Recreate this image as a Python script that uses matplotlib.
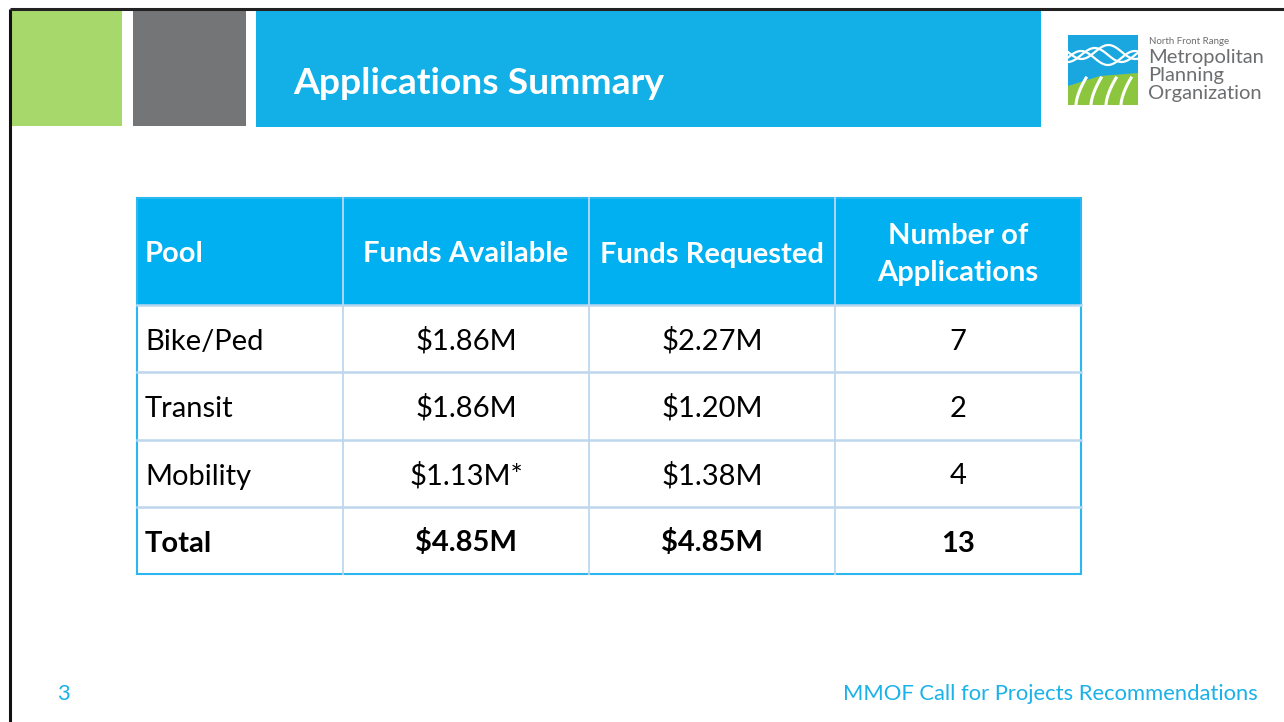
import matplotlib.pyplot as plt
import matplotlib.patches as mpatches
import numpy as np

# table contents
header = ['Pool', 'Funds Available', 'Funds Requested', 'Number of\nApplications']
pools = ['Bike/Ped', 'Transit', 'Mobility', 'Total']
funds_available = ['$1.86M', '$1.86M', '$1.13M*', '$4.85M']
funds_requested = ['$2.27M', '$1.20M', '$1.38M', '$4.85M']
num_apps = ['7', '2', '4', '13']

title = 'Applications Summary'
footer_left = '3'
footer_right = 'MMOF Call for Projects Recommendations'

BLUE = '#12b0e6'
HDR = '#00b0f0'
GRID = '#bdd7ee'

plt.rcParams['font.family'] = ['Lato', 'DejaVu Sans']

fig = plt.figure(figsize=(12.84, 7.22), dpi=100)
ax = fig.add_axes([0, 0, 1, 1])
ax.set_xlim(0, 1284)
ax.set_ylim(722, 0)
ax.axis('off')

# slide frame lines
ax.plot([10, 10], [9, 722], color='#111111', lw=2.2, solid_capstyle='butt')
ax.plot([10, 1284], [9, 9], color='#222222', lw=2.2, solid_capstyle='butt')

# header blocks
ax.add_patch(mpatches.Rectangle((11, 10), 111, 116, color='#a7d86b', lw=0))
ax.add_patch(mpatches.Rectangle((133, 8), 113, 118, color='#747577', lw=0))
ax.add_patch(mpatches.Rectangle((256, 10), 785, 117, color=BLUE, lw=0))
ax.text(293, 83, title, color='white', fontsize=26.8, fontweight='bold',
        va='center', ha='left')

# logo
ax.add_patch(mpatches.Rectangle((1068, 35), 70, 70, color='#1aa7e0', lw=0))
t = np.linspace(0, 1, 60)
for k, ph in enumerate([0, 1.6, 3.2]):
    xs = 1068 + 70 * t
    ys = 52 + 7 * np.sin(2 * np.pi * t * 1.3 + ph) + k * 3
    ax.plot(xs, ys, color='white', lw=1.6)
ax.add_patch(mpatches.Polygon([[1068, 105], [1068, 86], [1100, 76], [1138, 73],
                               [1138, 105]], closed=True, color='#8cc63f', lw=0))
th = np.linspace(0, 1, 30)
for x0 in [1076, 1091, 1106, 1121]:
    ax.plot(x0 + 10 * th ** 1.6, 105 - 27 * th, color='white', lw=2.2)
ax.text(1149, 41, 'North Front Range', color='#6d6e70', fontsize=7,
        va='center', ha='left')
ax.text(1148, 58, 'Metropolitan', color='#6d6e70', fontsize=14.5, va='center', ha='left')
ax.text(1148, 76, 'Planning', color='#6d6e70', fontsize=14.5, va='center', ha='left')
ax.text(1148, 94, 'Organization', color='#6d6e70', fontsize=14.5, va='center', ha='left')

# table geometry
col_edges = [137, 343, 589, 835, 1081]
row_edges = [198, 305, 372, 440, 507, 574]

ax.add_patch(mpatches.Rectangle((col_edges[0], row_edges[0]),
                                col_edges[-1] - col_edges[0], row_edges[1] - row_edges[0],
                                color=HDR, lw=0))

# grid lines
for x in col_edges[1:-1]:
    ax.plot([x, x], [row_edges[0], row_edges[-1]], color=GRID, lw=1.3)
for y in row_edges[1:-1]:
    ax.plot([col_edges[0], col_edges[-1]], [y, y], color=GRID, lw=1.8)
ax.add_patch(mpatches.Rectangle((col_edges[0], row_edges[0]),
                                col_edges[-1] - col_edges[0], row_edges[-1] - row_edges[0],
                                fill=False, ec='#2ab8ee', lw=1.5))

# header text
for j, h in enumerate(header):
    cy = (row_edges[0] + row_edges[1]) / 2
    lines = h.split('\n')
    n = len(lines)
    for k, line in enumerate(lines):
        by = cy + 11 + (k - (n - 1) / 2) * 37
        if j == 0:
            ax.text(col_edges[0] + 8, by, line, color='white', fontsize=21,
                    fontweight='bold', ha='left', va='baseline')
        else:
            cx = (col_edges[j] + col_edges[j + 1]) / 2
            ax.text(cx, by, line, color='white', fontsize=21, fontweight='bold',
                    ha='center', va='baseline')

# body text
columns = [pools, funds_available, funds_requested, num_apps]
for i in range(len(pools)):
    cy = (row_edges[i + 1] + row_edges[i + 2]) / 2
    weight = 'bold' if i == len(pools) - 1 else 'normal'
    for j, col in enumerate(columns):
        if j == 0:
            ax.text(col_edges[0] + 8, cy + 11, col[i], color='black', fontsize=21,
                    fontweight=weight, ha='left', va='baseline')
        else:
            cx = (col_edges[j] + col_edges[j + 1]) / 2
            ax.text(cx, cy + 11, col[i], color='black', fontsize=21,
                    fontweight=weight, ha='center', va='baseline')

# footer
ax.text(57, 694, footer_left, color='#1ab2e8', fontsize=15.8, ha='left', va='center')
ax.text(1258, 694, footer_right, color='#1ab2e8', fontsize=15.8, ha='right', va='center')

fig.savefig('out.png', dpi=100)
